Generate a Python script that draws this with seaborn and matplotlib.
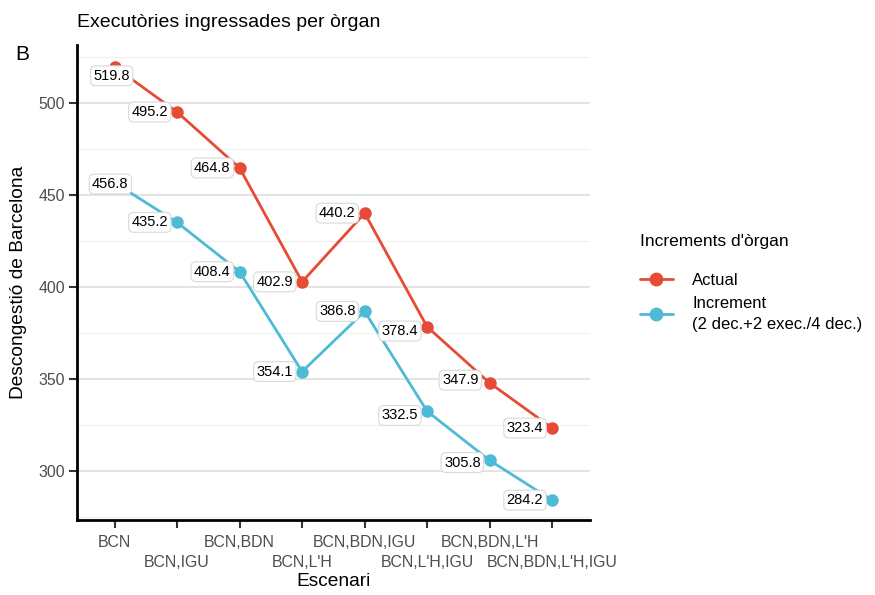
import pandas as pd
import numpy as np
import matplotlib.pyplot as plt
import seaborn as sns

# data
escenaris = ['BCN', 'BCN,IGU', 'BCN,BDN', "BCN,L'H", 'BCN,BDN,IGU',
             "BCN,L'H,IGU", "BCN,BDN,L'H", "BCN,BDN,L'H,IGU"]
actual = [519.8, 495.2, 464.8, 402.9, 440.2, 378.4, 347.9, 323.4]
increment = [456.8, 435.2, 408.4, 354.1, 386.8, 332.5, 305.8, 284.2]
series_names = ['Actual', 'Increment\n(2 dec.+2 exec./4 dec.)']
palette = ['#E64B35', '#4DBBD5']

df = pd.DataFrame({
    'pos': list(range(len(escenaris))) * 2,
    'valor': actual + increment,
    'serie': [series_names[0]] * len(actual) + [series_names[1]] * len(increment),
})

sns.set_style('white', {'text.color': 'black', 'axes.labelcolor': 'black'})
plt.rcParams['font.family'] = ['Liberation Sans', 'DejaVu Sans']

fig = plt.figure(figsize=(8.75, 5.95), dpi=100)
ax = fig.add_axes([0.088, 0.126, 0.586, 0.798])

sns.lineplot(data=df, x='pos', y='valor', hue='serie', palette=palette,
             marker='o', markersize=9, markeredgewidth=0, linewidth=2,
             ax=ax, zorder=3)

# value labels (repel-style): default to the left of the point,
# a few nudged like in the original
nudges = {(0, 0): (-2, -6.5, 'center'), (1, 0): (-3, -1, 'center'),
          (0, 5): (-6.5, -3, 'right'), (1, 5): (-6.5, -3, 'right'),
          (0, 6): (-8, 2, 'right'), (1, 6): (-6.5, -1.5, 'right')}
for s, (vals, col) in enumerate(zip([actual, increment], palette)):
    for i, v in enumerate(vals):
        dx, dy, ha = nudges.get((s, i), (-6.5, 0, 'right'))
        ax.annotate(f'{v:.1f}', (i, v), xytext=(dx, dy), textcoords='offset points',
                    ha=ha, va='center', fontsize=10.5, color='black', zorder=4,
                    bbox=dict(boxstyle='round,pad=0.2,rounding_size=0.35',
                              fc='white', ec='#D9D9D9', lw=0.8))

ax.set_xlim(-0.6, 7.6)
ax.set_ylim(273.4, 531.5)
ax.set_yticks([300, 350, 400, 450, 500])
ax.set_yticks([275, 325, 375, 425, 475, 525], minor=True)
ax.grid(axis='y', which='major', color='#E3E3E3', lw=1.4)
ax.grid(axis='y', which='minor', color='#EFEFEF', lw=0.8)
ax.grid(axis='x', visible=False)
ax.set_axisbelow(True)

ax.set_xticks(range(len(escenaris)))
ax.set_xticklabels(escenaris)
ax.tick_params(axis='both', which='major', bottom=True, left=True, length=5.5, width=1.5,
               color='#333333', labelsize=11.4, labelcolor='#4D4D4D', pad=3)
ax.tick_params(axis='x', which='major', pad=5)
ax.tick_params(axis='y', which='minor', length=0)
# staggered x labels (two rows)
for i, t in enumerate(ax.xaxis.get_major_ticks()):
    if i % 2 == 1:
        t.set_pad(20)

for s in ['top', 'right']:
    ax.spines[s].set_visible(False)
for s in ['left', 'bottom']:
    ax.spines[s].set_linewidth(2)
    ax.spines[s].set_color('black')

ax.set_xlabel('Escenari', fontsize=13.8, labelpad=2)
ax.set_ylabel('Descongestió de Barcelona', fontsize=13.8, labelpad=8)

fig.text(0.088, 0.955, 'Executòries ingressades per òrgan', fontsize=14, va='baseline')
fig.text(0.017, 0.909, 'B', fontsize=15, va='center')

leg = ax.legend(title="Increments d'òrgan", loc='center left', bbox_to_anchor=(0.714, 0.524),
                bbox_transform=fig.transFigure, frameon=False, fontsize=12,
                title_fontsize=12.5, handlelength=2.0, handletextpad=1.15,
                labelspacing=0.5, alignment='left')
leg._legend_box.sep = 17
leg.get_texts()[1].set_linespacing(1.5)
for h in leg.legend_handles:
    h.set_markersize(10)

fig.savefig('out.png', dpi=100)
